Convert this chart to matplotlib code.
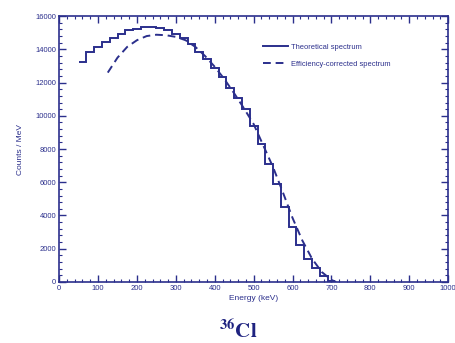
import numpy as np
import matplotlib
matplotlib.use('Agg')
from matplotlib import pyplot as plt
from matplotlib.ticker import MultipleLocator

# Theoretical spectrum, 20 keV bins
bin_edges = [50, 70, 90, 110, 130, 150, 170, 190, 210, 230, 250, 270, 290, 310,
             330, 350, 370, 390, 410, 430, 450, 470, 490, 510, 530, 550, 570,
             590, 610, 630, 650, 670, 690, 710]
theory_counts = [13250, 13850, 14150, 14450, 14700, 14950, 15150, 15250, 15320,
                 15340, 15280, 15150, 14950, 14700, 14350, 13850, 13400, 12900,
                 12350, 11700, 11100, 10400, 9400, 8300, 7100, 5900, 4500, 3300,
                 2200, 1400, 850, 350, 60]

# Efficiency-corrected spectrum
corr_energy = [125, 150, 175, 200, 225, 250, 275, 300, 325, 350, 375, 400, 425,
               450, 475, 500, 525, 550, 575, 600, 625, 650, 675, 700, 712]
corr_counts = [12600, 13500, 14150, 14550, 14800, 14880, 14850, 14750, 14550,
               14150, 13600, 12950, 12200, 11350, 10450, 9500, 8200, 6900, 5400,
               3850, 2500, 1400, 600, 120, 0]

navy = '#2b2f8c'

fig = plt.figure(figsize=(4.55, 3.43), dpi=100)
ax = fig.add_axes([0.130, 0.178, 0.855, 0.775])

ax.stairs(theory_counts, bin_edges, baseline=None, color=navy, lw=1.4,
          label='Theoretical spectrum')
ax.plot(corr_energy, corr_counts, color=navy, lw=1.4, ls=(0, (4, 2.5)),
        label='Efficiency-corrected spectrum')

ax.set_xlim(0, 1000)
ax.set_ylim(0, 16000)
ax.xaxis.set_major_locator(MultipleLocator(100))
ax.xaxis.set_minor_locator(MultipleLocator(20))
ax.yaxis.set_major_locator(MultipleLocator(2000))
ax.yaxis.set_minor_locator(MultipleLocator(400))
ax.tick_params(which='both', direction='in', top=True, right=True, color=navy,
               labelsize=5.5, labelcolor=navy, pad=2)
ax.tick_params(which='major', length=5, width=1)
ax.tick_params(which='minor', length=2.5, width=0.8)
for s in ax.spines.values():
    s.set_color(navy)
    s.set_linewidth(1.2)
for lab in ax.get_xticklabels() + ax.get_yticklabels():
    lab.set_family('Liberation Sans')

ax.set_xlabel('Energy (keV)', fontsize=6, color=navy, family='Liberation Sans', labelpad=2)
ax.set_ylabel('Counts / MeV', fontsize=6, color=navy, family='Liberation Sans', labelpad=8)

leg = ax.legend(loc='upper right', bbox_to_anchor=(0.862, 0.912), frameon=False,
                prop={'family': 'Liberation Sans', 'size': 5.4}, handlelength=3.3,
                handletextpad=0.45, labelspacing=1.35, borderpad=0)
for t in leg.get_texts():
    t.set_color(navy)

plt.rcParams['mathtext.fontset'] = 'stix'
fig.text(0.523, 0.035, r'$\mathbf{^{36}Cl}$', ha='center', va='center',
         fontsize=15, color='#1f2380')

plt.savefig('out.png', dpi=100)
